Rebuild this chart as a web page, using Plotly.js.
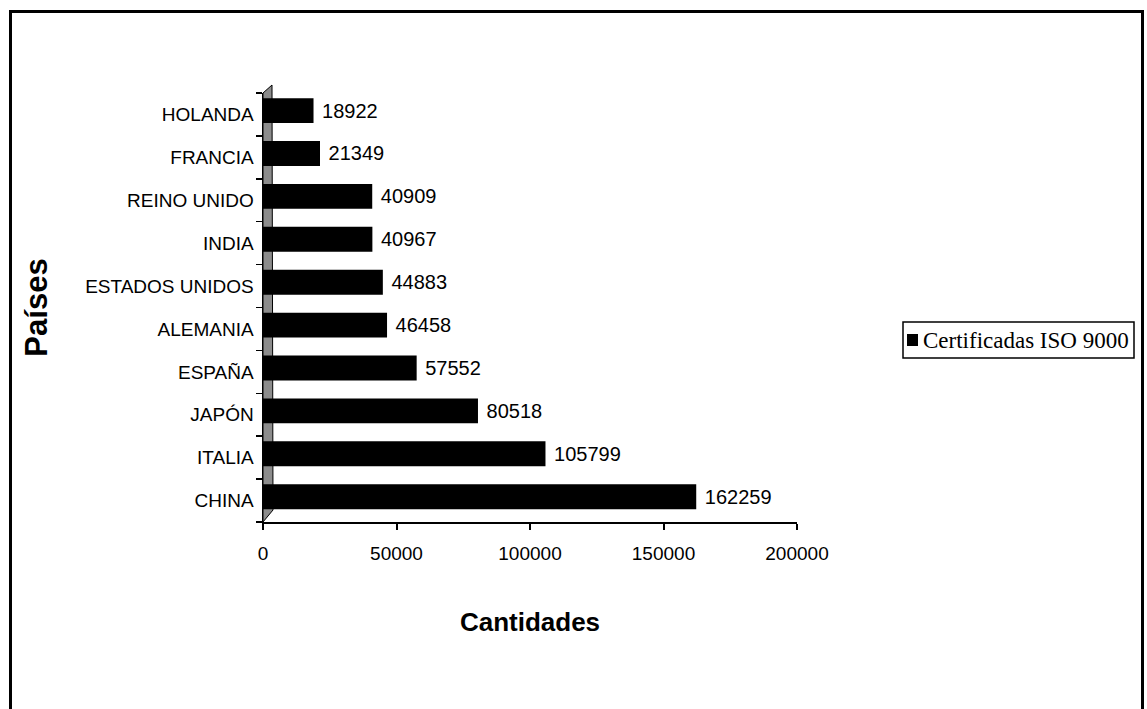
<!DOCTYPE html>
<html>
<head>
<meta charset="utf-8">
<script src="https://cdn.plot.ly/plotly-3.0.1.min.js"></script>
<style>
  html, body { margin: 0; padding: 0; background: #ffffff; overflow: hidden; }
  #chart { position: absolute; left: 0; top: 0; width: 1147px; height: 709px; }
  #frame { position: absolute; left: 9px; top: 10px; width: 1135px; height: 800px;
           box-sizing: border-box; border: 3px solid #000; pointer-events: none; z-index: 10; }
</style>
</head>
<body>
<div id="chart"></div>
<div id="frame"></div>
<script>
// Data (bottom to top as drawn)
const countries = ["CHINA", "ITALIA", "JAPÓN", "ESPAÑA", "ALEMANIA", "ESTADOS UNIDOS", "INDIA", "REINO UNIDO", "FRANCIA", "HOLANDA"];
const certificates = [162259, 105799, 80518, 57552, 46458, 44883, 40967, 40909, 21349, 18922];
const seriesName = "Certificadas ISO 9000";
const xTickValues = [0, 50000, 100000, 150000, 200000];
const xTickLabels = ["0", "50000", "100000", "150000", "200000"];

const sans = "Liberation Sans, Arial, sans-serif";
const serif = "Liberation Serif, Times New Roman, serif";

const trace = {
  type: "bar",
  orientation: "h",
  name: seriesName,
  y: countries,
  x: certificates,
  text: certificates.map(v => "\u00a0" + String(v)),
  textposition: "outside",
  constraintext: "none",
  cliponaxis: false,
  width: 0.58,
  offset: -0.2,
  textfont: { family: sans, size: 20, color: "#000" },
  marker: { color: "#000000", line: { width: 0 } },
  hoverinfo: "x+y",
  showlegend: false
};

// plot area pixel frame helpers for decoration placement (paper coords)
const PX0 = 263, PX1 = 797, PY0 = 522, PY1 = 93;
const px = v => (v - PX0) / (PX1 - PX0);
const py = v => (PY0 - v) / (PY0 - PY1);

const layout = {
  width: 1147,
  height: 709,
  margin: { l: PX0, r: 1147 - PX1, t: PY1, b: 709 - PY0, pad: 0 },
  paper_bgcolor: "rgba(0,0,0,0)",
  plot_bgcolor: "rgba(0,0,0,0)",
  showlegend: false,
  xaxis: {
    range: [0, 200000],
    tickvals: xTickValues,
    ticktext: xTickLabels,
    ticks: "outside",
    ticklen: 6,
    tickwidth: 2,
    tickcolor: "#000",
    showline: true,
    linecolor: "#000",
    linewidth: 2,
    showgrid: false,
    zeroline: false,
    ticklabelstandoff: 7,
    tickfont: { family: sans, size: 19, color: "#000" },
    title: { text: "<b>Cantidades</b>", standoff: 50,
             font: { family: sans, size: 26, color: "#000" } }
  },
  yaxis: {
    type: "category",
    categoryorder: "array",
    categoryarray: countries,
    tickson: "boundaries",
    ticks: "outside",
    ticklen: 6,
    tickwidth: 1.5,
    tickcolor: "#000",
    showline: true,
    linecolor: "#000",
    linewidth: 1.5,
    showgrid: false,
    zeroline: false,
    ticklabelstandoff: 4,
    tickfont: { family: sans, size: 19, color: "#000" },
    title: { text: "<b>Países</b>", standoff: 28,
             font: { family: sans, size: 31, color: "#000" } }
  },
  shapes: [
    { // grey back wall
      type: "path", xref: "paper", yref: "paper",
      path: "M 0 0 L 0 1 L " + px(272) + " " + py(85) + " L " + px(273) + " " + py(510) + " Z",
      fillcolor: "#8c8c8c",
      line: { color: "#000", width: 1 },
      layer: "below"
    },
    { // legend box
      type: "rect", xref: "paper", yref: "paper",
      x0: px(903), x1: px(1134), y0: py(358), y1: py(322),
      fillcolor: "#ffffff",
      line: { color: "#000", width: 1.5 }
    },
    { // legend marker
      type: "rect", xref: "paper", yref: "paper",
      x0: px(907), x1: px(918), y0: py(346), y1: py(334),
      fillcolor: "#000000",
      line: { width: 0 }
    }
  ],
  annotations: [
    {
      text: seriesName, xref: "paper", yref: "paper",
      x: px(921), y: py(340), xanchor: "left", yanchor: "middle",
      showarrow: false,
      font: { family: serif, size: 23, color: "#000" }
    }
  ]
};

Plotly.newPlot("chart", [trace], layout, { displayModeBar: false, staticPlot: true });
</script>
</body>
</html>
